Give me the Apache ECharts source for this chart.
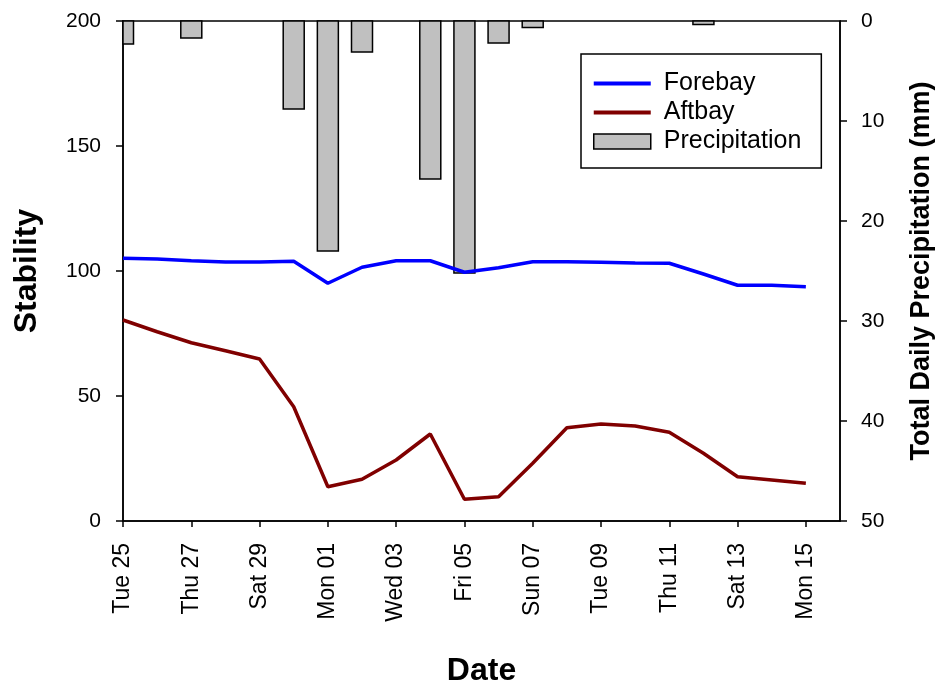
<!DOCTYPE html>
<html>
<head>
<meta charset="utf-8">
<script src="https://cdn.jsdelivr.net/npm/echarts@6/dist/echarts.min.js"></script>
<style>
  html, body { margin: 0; padding: 0; background: #fff; }
  #chart { width: 936px; height: 689px; }
</style>
</head>
<body>
<div id="chart"></div>
<script>
// Daily dates (one category per day; the last one only pads the axis end)
const days = ['Tue 25','Wed 26','Thu 27','Fri 28','Sat 29','Sun 30','Mon 01','Tue 02','Wed 03','Thu 04',
              'Fri 05','Sat 06','Sun 07','Mon 08','Tue 09','Wed 10','Thu 11','Fri 12','Sat 13','Sun 14',
              'Mon 15','Tue 16'];

// Stability of the forebay and aftbay
const forebay = [105.1, 104.8, 104.1, 103.6, 103.6, 103.9, 95.1, 101.5, 104.1, 104.1,
                 99.5, 101.3, 103.7, 103.7, 103.5, 103.2, 103.1, 98.8, 94.3, 94.3, 93.7];
const aftbay  = [80.4, 75.7, 71.3, 68.1, 64.8, 45.7, 13.7, 16.7, 24.4, 34.8,
                 8.7, 9.7, 23.1, 37.3, 38.8, 38.0, 35.5, 27.1, 17.7, 16.4, 15.1];

// Total daily precipitation (mm); '-' marks dry days
const precipitation = [2.3, '-', 1.7, '-', '-', 8.8, 23.0, 3.1, '-', 15.8,
                       25.2, 2.2, 0.65, '-', '-', '-', '-', 0.35, '-', '-', '-'];

// Axis ranges and ticks
const stabilityMax = 200, stabilityStep = 50;
const precipMax = 50, precipStep = 10;

const FONT = 'Liberation Sans, Arial, sans-serif';
// thin horizontal bar used as the legend sample for the line series
const LINE_ICON = 'path://M0,0H100V7H0Z';
const BAR_FILL = '#c0c0c0';
const BAR_WIDTH = 21;

// [dayIndex, mm] pairs for the days with rain
const precipData = precipitation
  .map((v, i) => [i, v])
  .filter(d => d[1] !== '-');

// Precipitation columns hang from the top (0 mm) of the inverted right axis,
// clipped to the plot area so the first day's column stops at the frame.
function renderPrecip(params, api) {
  const i = api.value(0);
  const v = api.value(1);
  const base = api.coord([i, 0]);
  const end = api.coord([i, v]);
  const rect = echarts.graphic.clipRectByRect(
    { x: base[0] - BAR_WIDTH / 2, y: base[1], width: BAR_WIDTH, height: end[1] - base[1] },
    { x: params.coordSys.x, y: params.coordSys.y, width: params.coordSys.width, height: params.coordSys.height }
  );
  if (!rect) return null;
  return {
    type: 'rect',
    shape: rect,
    style: { fill: BAR_FILL, stroke: '#000', lineWidth: 1.5 }
  };
}

const chart = echarts.init(document.getElementById('chart'), null, { renderer: 'canvas' });

chart.setOption({
  animation: false,
  backgroundColor: '#ffffff',
  grid: {
    left: 123, right: 96, top: 21, bottom: 168,
    outerBoundsMode: 'none',
    containLabel: false,
    show: true, borderColor: '#000', borderWidth: 1.5, backgroundColor: 'transparent'
  },
  legend: {
    orient: 'vertical',
    left: 581, top: 54,
    padding: [17, 20, 14, 12],
    borderColor: '#000', borderWidth: 1.5,
    itemWidth: 57, itemHeight: 15, itemGap: 4,
    symbolKeepAspect: true,
    textStyle: { fontFamily: FONT, fontSize: 25, color: '#000', padding: [0, 0, 0, 8] },
    data: [
      { name: 'Forebay', icon: LINE_ICON },
      { name: 'Aftbay', icon: LINE_ICON },
      { name: 'Precipitation', icon: 'rect',
        itemStyle: { color: BAR_FILL, borderColor: '#000', borderWidth: 1.5 } }
    ]
  },
  xAxis: {
    type: 'category',
    data: days,
    boundaryGap: false,
    name: 'Date',
    nameLocation: 'middle',
    nameGap: 134,
    nameTextStyle: { fontFamily: FONT, fontSize: 32, fontWeight: 'bold', color: '#000' },
    axisLine: { onZero: false, lineStyle: { color: '#000', width: 1.5 } },
    axisTick: { show: true, interval: 1, length: 6, lineStyle: { color: '#000', width: 1.5 } },
    axisLabel: { interval: 1, rotate: 90, margin: 22, fontFamily: FONT, fontSize: 23, color: '#000' },
    splitLine: { show: false }
  },
  yAxis: [
    {
      type: 'value',
      min: 0, max: stabilityMax, interval: stabilityStep,
      name: 'Stability',
      nameLocation: 'middle',
      nameRotate: 90,
      nameGap: 80,
      nameTextStyle: { fontFamily: FONT, fontSize: 32, fontWeight: 'bold', color: '#000' },
      axisLine: { show: true, lineStyle: { color: '#000', width: 1.5 } },
      axisTick: { show: true, length: 7, lineStyle: { color: '#000', width: 1.5 } },
      axisLabel: { margin: 22, fontFamily: FONT, fontSize: 21, color: '#000' },
      splitLine: { show: false }
    },
    {
      type: 'value',
      position: 'right',
      inverse: true,
      min: 0, max: precipMax, interval: precipStep,
      name: 'Total Daily Precipitation (mm)',
      nameLocation: 'middle',
      nameRotate: 90,
      nameGap: 68,
      nameTextStyle: { fontFamily: FONT, fontSize: 27, fontWeight: 'bold', color: '#000' },
      axisLine: { show: true, lineStyle: { color: '#000', width: 1.5 } },
      axisTick: { show: true, length: 7, lineStyle: { color: '#000', width: 1.5 } },
      axisLabel: { margin: 21, fontFamily: FONT, fontSize: 21, color: '#000' },
      splitLine: { show: false }
    }
  ],
  series: [
    {
      name: 'Precipitation',
      type: 'custom',
      yAxisIndex: 1,
      data: precipData,
      encode: { x: 0, y: 1 },
      renderItem: renderPrecip,
      itemStyle: { color: BAR_FILL, borderColor: '#000', borderWidth: 1.5 },
      z: 1
    },
    {
      name: 'Forebay',
      type: 'line',
      data: forebay,
      showSymbol: false,
      symbol: 'none',
      lineStyle: { color: '#0000ff', width: 3.5 },
      itemStyle: { color: '#0000ff' },
      z: 3
    },
    {
      name: 'Aftbay',
      type: 'line',
      data: aftbay,
      showSymbol: false,
      symbol: 'none',
      lineStyle: { color: '#800000', width: 3.5 },
      itemStyle: { color: '#800000' },
      z: 3
    }
  ]
});
</script>
</body>
</html>
